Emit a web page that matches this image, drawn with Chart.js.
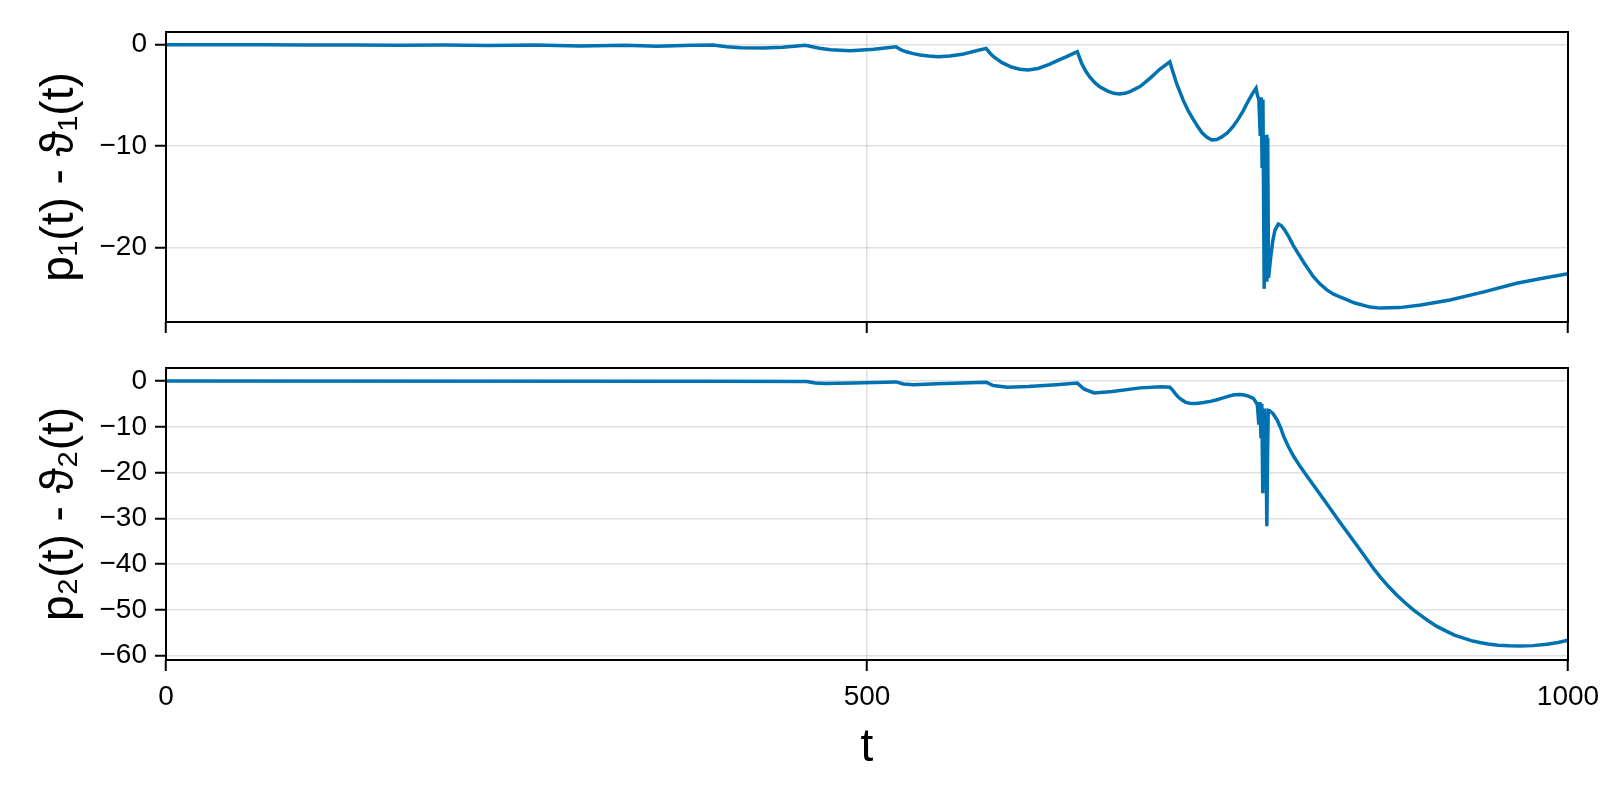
<!DOCTYPE html>
<html>
<head>
<meta charset="utf-8">
<script src="https://cdn.jsdelivr.net/npm/chart.js@4/dist/chart.umd.min.js"></script>
<style>
  body { margin: 0; background: #fff; overflow: hidden; }
  .panel { position: absolute; left: 0; }
</style>
</head>
<body>
<div class="panel" style="top:0px"><canvas id="top" width="1600" height="360"></canvas></div>
<div class="panel" style="top:340px"><canvas id="bottom" width="1600" height="460"></canvas></div>
<script>
// p1(t) - theta1(t)
const topT = [0, 70, 100, 135, 165, 199, 230, 263, 295, 328, 350, 375, 390,
  400, 410, 426, 440, 456, 466, 474, 488, 505, 520.7,
  524, 528, 533, 538, 544, 551, 559, 568, 578, 585,
  587.5, 590, 593, 596, 603, 609, 615, 622, 630, 637, 642, 650,
  653, 656, 659, 662.5, 666, 672, 676, 680, 684, 688, 695, 702, 709, 716,
  718, 721, 725.6, 729, 732.8, 736, 739, 742.5, 746, 749.5, 753, 757, 761, 765, 768, 771, 773, 775.5, 777.5,
  778.5, 779.5, 780.5, 781.2, 781.8, 782.4, 783.3, 783.9, 784.6, 785.2, 785.8, 786.4,
  788, 789.5, 791, 793.4, 795.5, 798, 801, 804, 807.5, 812, 818.4, 823, 828, 832.5, 837.4, 848, 858.8,
  866, 880, 895, 915.8, 940, 963.4, 980, 1000];
const topV = [0, -0.01, -0.03, -0.02, -0.05, -0.03, -0.08, -0.04, -0.12, -0.05, -0.15, -0.06, -0.03,
  -0.2, -0.29, -0.33, -0.25, -0.06, -0.35, -0.5, -0.6, -0.45, -0.2,
  -0.5, -0.7, -0.88, -1.02, -1.12, -1.18, -1.12, -0.95, -0.6, -0.36,
  -0.8, -1.15, -1.45, -1.75, -2.2, -2.42, -2.5, -2.35, -1.95, -1.5, -1.2, -0.69,
  -1.8, -2.6, -3.2, -3.75, -4.15, -4.6, -4.8, -4.87, -4.8, -4.6, -4.1, -3.3, -2.4, -1.7,
  -2.6, -3.9, -5.5, -6.5, -7.4, -8.1, -8.7, -9.15, -9.4, -9.35, -9.1, -8.7, -8.1, -7.3, -6.6, -5.8, -5.3, -4.7, -4.3,
  -5.0, -5.4, -9.0, -5.2, -12.0, -5.4, -24.1, -10.0, -8.9, -23.4, -9.2, -23.0,
  -20.9, -19.3, -18.3, -17.7, -17.85, -18.3, -19.0, -19.8, -20.6, -21.6, -22.9, -23.6, -24.2, -24.6, -24.9, -25.5, -25.9,
  -26.0, -25.95, -25.7, -25.2, -24.4, -23.55, -23.1, -22.6];

// p2(t) - theta2(t)
const botT = [0, 390, 457, 463, 470, 490, 520.7, 526, 533, 550, 585,
  590, 600, 615, 635, 650, 655, 662, 675, 695, 710, 716,
  718, 719.7, 722, 724, 727, 730, 735, 740, 745, 749, 754, 758, 762, 766, 769, 772, 775.6, 778,
  778.5, 779.5, 780.3, 781, 781.6, 782.3, 782.9, 783.5, 784.5, 785.2, 785.7, 786.2, 787.2,
  789.5, 792.5, 795, 797.2, 800.5, 804.4, 809, 813.9, 825.8, 837.7, 849.6, 861.4, 866, 872, 878, 884, 889.7,
  895, 900, 906.5, 913.5, 919, 925, 931, 937, 943, 950, 958, 965.8, 975, 985, 993, 1000];
const botV = [0, -0.05, -0.1, -0.45, -0.55, -0.45, -0.2, -0.65, -0.8, -0.6, -0.25,
  -1.0, -1.37, -1.2, -0.8, -0.45, -1.8, -2.6, -2.3, -1.5, -1.25, -1.35,
  -2.0, -2.7, -3.5, -4.0, -4.6, -4.87, -4.9, -4.7, -4.45, -4.15, -3.7, -3.3, -3.0, -2.95, -3.05, -3.3, -3.8, -4.9,
  -5.5, -9.5, -4.6, -12.5, -5.0, -24.5, -11.8, -6.0, -12.0, -31.7, -16.0, -6.4, -6.5,
  -7.1, -8.5, -10.2, -12.1, -14.3, -16.5, -18.7, -20.8, -25.9, -31.0, -36.0, -41.0, -42.8, -44.9, -46.8, -48.5, -50.0,
  -51.2, -52.3, -53.6, -54.7, -55.5, -56.1, -56.7, -57.1, -57.45, -57.7, -57.85, -57.9, -57.8, -57.5, -57.1, -56.6];

const xTicks = [0, 500, 1000];
const topYTicks = [0, -10, -20];
const botYTicks = [0, -10, -20, -30, -40, -50, -60];

const FONT = "'Liberation Sans', Arial, sans-serif";
const LINE_COLOR = "#0072b2";
const GRID_COLOR = "rgba(0,0,0,0.12)";

const framePlugin = {
  id: "frame",
  afterDatasetsDraw(chart) {
    const { ctx, chartArea: a } = chart;
    ctx.save();
    ctx.strokeStyle = "#000";
    ctx.lineWidth = 2;
    ctx.strokeRect(a.left, a.top, a.right - a.left, a.bottom - a.top);
    ctx.restore();
  },
};

function toPoints(ts, vs) {
  return ts.map((t, i) => ({ x: t, y: vs[i] }));
}

function minusSign(value) {
  return String(value).replace("-", "\u2212");
}

// fixed axis sizes, no extra label overflow padding
function fixSize(scale, w, h) {
  if (w !== null) scale.width = w;
  if (h !== null) scale.height = h;
  scale.paddingLeft = 0;
  scale.paddingRight = 0;
  scale.paddingTop = 0;
  scale.paddingBottom = 0;
}

function makePanel(canvasId, ts, vs, yLabel, yMin, yMax, yTicks, opts) {
  const ctx = document.getElementById(canvasId);
  return new Chart(ctx, {
    type: "line",
    data: {
      datasets: [
        {
          data: toPoints(ts, vs),
          borderColor: LINE_COLOR,
          borderWidth: 3.5,
          pointRadius: 0,
          tension: 0,
          fill: false,
        },
      ],
    },
    options: {
      responsive: false,
      animation: false,
      events: [],
      layout: { padding: { top: opts.padTop, right: 32, bottom: 0, left: 0 } },
      plugins: { legend: { display: false }, tooltip: { enabled: false } },
      scales: {
        x: {
          type: "linear",
          min: 0,
          max: 1000,
          afterFit: (scale) => fixSize(scale, null, opts.xHeight),
          afterBuildTicks: (scale) => { scale.ticks = xTicks.map((v) => ({ value: v })); },
          border: { display: false },
          grid: { color: GRID_COLOR, lineWidth: 1.5, tickColor: "#000", tickWidth: 2, tickLength: 11 },
          ticks: {
            display: opts.showX,
            padding: 9,
            color: "#000",
            font: { family: FONT, size: 28 },
            maxRotation: 0,
            callback: (v) => String(v),
          },
          title: {
            display: opts.showX,
            text: "t",
            color: "#000",
            font: { family: FONT, size: 46 },
            padding: { top: 0, bottom: 24 },
          },
        },
        y: {
          type: "linear",
          min: yMin,
          max: yMax,
          afterFit: (scale) => fixSize(scale, 166, null),
          afterBuildTicks: (scale) => { scale.ticks = yTicks.map((v) => ({ value: v })); },
          border: { display: false },
          grid: { color: GRID_COLOR, lineWidth: 1.5, tickColor: "#000", tickWidth: 2, tickLength: 11 },
          ticks: {
            padding: 8,
            color: "#000",
            font: { family: FONT, size: 28 },
            callback: minusSign,
          },
          title: {
            display: true,
            text: yLabel,
            color: "#000",
            font: { family: FONT, size: 46 },
            padding: { top: 33, bottom: 0 },
          },
        },
      },
    },
    plugins: [framePlugin],
  });
}

makePanel("top", topT, topV, "p\u2081(t) - \u03d1\u2081(t)", -27.37, 1.254, topYTicks,
  { padTop: 32, xHeight: 38, showX: false });
makePanel("bottom", botT, botV, "p\u2082(t) - \u03d1\u2082(t)", -60.94, 2.84, botYTicks,
  { padTop: 28, xHeight: 140, showX: true });
</script>
</body>
</html>
